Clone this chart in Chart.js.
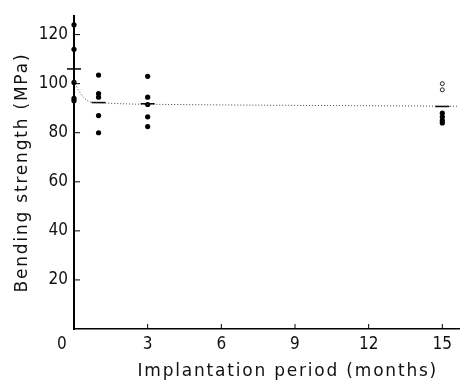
<!doctype html>
<html>
<head>
    <meta charset="UTF-8">
    <title>Bending strength vs implantation period</title>
    <style>
        body { margin:0; background:#fff; }
        #wrap { width:468px; height:383px; }
    </style>
</head>
<body>
<div id="wrap"><canvas id="myCanvas"></canvas></div>
<script src="https://cdn.jsdelivr.net/npm/chart.js@4.4.1/dist/chart.umd.min.js"></script>
<script>
    // values
    const periods = [0, 1, 3, 15];
    const strengthAt0 = [124, 114, 100.5, 94, 93];
    const strengthAt1 = [103.5, 96, 94.5, 87, 80];
    const strengthAt3 = [103, 94.5, 91.5, 86.5, 82.5];
    const strengthAt15 = [88, 86.5, 85, 84];
    const openAt15 = [100, 97.5];
    const meanStrength = [106, 92.3, 91.8, 90.7];
    const fitMonths = [0, 0.15, 0.3, 0.45, 0.65, 1, 3, 15.6];
    const fitStrength = [101, 98, 95.5, 93.8, 92.6, 92.2, 91.6, 90.8];
    const xTicks = [0, 3, 6, 9, 12, 15];
    const yTicks = [0, 20, 40, 60, 80, 100, 120];

    const filledGroups = [strengthAt0, strengthAt1, strengthAt3, strengthAt15];
    const filledPts = [];
    filledGroups.forEach((g, i) => g.forEach(v => filledPts.push({x: periods[i], y: v})));

    const tickFont = {family: "'Liberation Sans Narrow', 'DejaVu Sans Condensed', sans-serif", size: 17};
    const titleFont = {family: "'DejaVu Sans', sans-serif", size: 17};

    // spaced-out axis titles like the scanned figure; dx nudges the x title right
    function spacedTitle(scale, dx) {
        if (scale._spaced) return;
        const orig = scale.drawTitle;
        scale.drawTitle = function() {
            const c = this.ctx;
            c.save();
            c.letterSpacing = '1.8px';
            c.translate(dx, 0);
            orig.apply(this, arguments);
            c.restore();
        };
        scale._spaced = true;
    }

    // small tick marks pointing into the plot
    const innerTicks = {
        id: 'innerTicks',
        afterDraw(chart) {
            const c = chart.ctx, xs = chart.scales.x, ys = chart.scales.y;
            c.save();
            c.strokeStyle = '#000';
            c.lineWidth = 1;
            xTicks.forEach(v => {
                if (v === 0) return;
                const px = xs.getPixelForValue(v);
                c.beginPath(); c.moveTo(px, ys.bottom); c.lineTo(px, ys.bottom - 5); c.stroke();
            });
            yTicks.forEach(v => {
                if (v === 0) return;
                const py = ys.getPixelForValue(v);
                c.beginPath(); c.moveTo(xs.left, py); c.lineTo(xs.left + 6, py); c.stroke();
            });
            c.restore();
        }
    };

    const ctx = document.getElementById('myCanvas').getContext('2d');
    const myChart = new Chart(ctx, {
        type: 'scatter',
        data: {
            datasets: [{
                label: 'fit',
                type: 'line',
                data: fitMonths.map((m, i) => ({x: m, y: fitStrength[i]})),
                borderColor: '#444',
                borderWidth: 1,
                borderDash: [1, 2],
                pointRadius: 0,
                tension: 0.4,
                fill: false,
                clip: false
            }, {
                label: 'mean',
                data: periods.map((m, i) => ({x: m, y: meanStrength[i]})),
                pointStyle: 'line',
                pointRadius: 7,
                borderColor: '#000',
                borderWidth: 1.5,
                clip: false
            }, {
                label: 'specimens',
                data: filledPts,
                pointRadius: 2.6,
                backgroundColor: '#000',
                borderColor: '#000',
                borderWidth: 0,
                clip: false
            }, {
                label: 'open',
                data: openAt15.map(v => ({x: 15, y: v})),
                pointRadius: 2,
                backgroundColor: '#fff',
                borderColor: '#222',
                borderWidth: 1,
                clip: false
            }]
        },
        options: {
            responsive: true,
            maintainAspectRatio: false,
            animation: false,
            layout: {padding: {top: 10, right: 6, left: 0, bottom: 0}},
            plugins: {legend: {display: false}, tooltip: {enabled: false}},
            scales: {
                x: {
                    type: 'linear',
                    min: 0,
                    max: 15.7,
                    afterBuildTicks: s => { s.ticks = xTicks.map(v => ({value: v})); },
                    afterFit: s => { s.height = 54; spacedTitle(s, 21); },
                    grid: {drawOnChartArea: false, drawTicks: false},
                    border: {color: '#000', width: 1.5},
                    ticks: {font: tickFont, color: '#111', padding: 5, maxRotation: 0,
                        callback: v => v === 0 ? '0     ' : v},
                    title: {display: true, text: 'Implantation period (months)', font: titleFont,
                        color: '#111', padding: {top: 0, bottom: 1}}
                },
                y: {
                    min: 0,
                    max: 127.5,
                    afterBuildTicks: s => { s.ticks = yTicks.map(v => ({value: v})); },
                    afterFit: s => { s.width = 74; spacedTitle(s, 0); },
                    grid: {drawOnChartArea: false, drawTicks: false},
                    border: {color: '#000', width: 2},
                    ticks: {font: tickFont, color: '#111', padding: 6,
                        callback: v => v === 0 ? '' : v},
                    title: {display: true, text: 'Bending strength (MPa)', font: titleFont,
                        color: '#111', padding: {top: 12, bottom: 0}}
                }
            }
        },
        plugins: [innerTicks]
    });
</script>
</body>
</html>
